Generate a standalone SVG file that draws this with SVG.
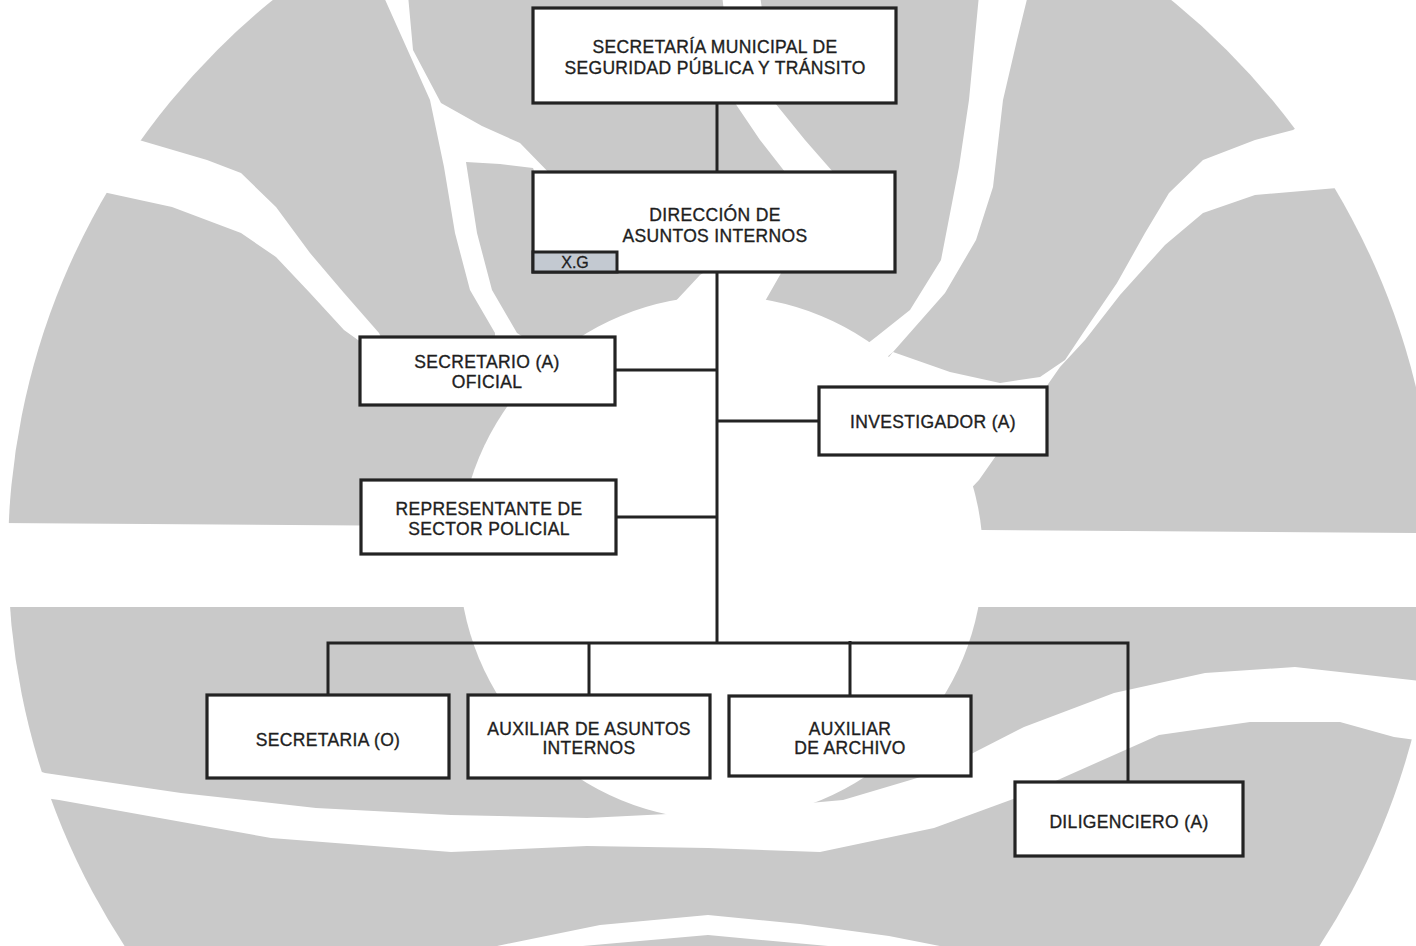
<svg xmlns="http://www.w3.org/2000/svg" width="1416" height="946" viewBox="0 0 1416 946">
<style>
.wm{fill:#c9c9c9}
.wh{fill:#ffffff}
.box{fill:#ffffff;stroke:#232323;stroke-width:3.2}
.tag{fill:#c3c9d1;stroke:#232323;stroke-width:3}
.ln{fill:none;stroke:#232323;stroke-width:3;stroke-linejoin:miter}
.t{font-family:'Liberation Sans',Arial,sans-serif;font-size:17.5px;fill:#1e1e1e;stroke:#1e1e1e;stroke-width:0.35px;text-anchor:middle;letter-spacing:0.35px}
.ts{font-family:'Liberation Sans',Arial,sans-serif;font-size:16px;fill:#1e1e1e;stroke:#1e1e1e;stroke-width:0.3px;text-anchor:middle}
</style>
<rect x="0" y="0" width="1416" height="946" fill="#ffffff"/>
<g id="watermark">
  <circle class="wm" cx="722" cy="555" r="714"/>
  <polygon class="wh" points="-10,523 1426,533 1426,607 -10,607"/>
  <circle class="wh" cx="721" cy="558" r="262"/>
  <polygon class="wh" points="80,110 139,140 207,160 241,173 276,207 310,253 344,293 379,333 385,345 560,360 580,380 450,395 365,345 344,330 310,293 276,257 241,233 172,207 103,192 60,180"/>
  <polygon class="wh" points="383,-5 408,-5 413,50 441,103 482,126 520,143 556,180 540,186 533,168 500,164 466,162 477,233 492,290 517,333 600,385 585,398 495,340 495,333 470,290 455,233 444,167 430,100"/>
  <polygon class="wh" points="722,-5 735,103 760,140 785,172 770,230 700,275 672,305 760,310 800,240 833,172 805,140 775,103 760,-5"/>
  <polygon class="wh" points="979,-5 969,100 959,167 941,260 910,310 876,337 840,365 860,380 893,352 945,293 976,240 993,187 1003,100 1017,40 1028,-5"/>
  <polygon class="wh" points="1340,100 1293,130 1255,140 1203,160 1169,193 1145,233 1117,283 1083,333 1065,360 1040,377 1000,383 950,372 893,352 870,380 880,400 960,500 979,480 1000,450 1030,410 1060,367 1085,340 1120,295 1165,245 1203,213 1255,195 1337,188 1390,170"/>
  <polygon class="wh" points="20,765 45,773 181,793 316,808 451,815 587,818 708,812 843,800 934,773 1024,727 1114,693 1205,673 1295,667 1430,682 1430,742 1394,737 1340,722 1250,722 1159,735 1024,795 934,828 820,852 708,848 587,846 451,852 271,838 59,800 30,796"/>
  <polygon class="wh" points="470,948 497,946 600,925 708,915 800,924 889,936 950,948 850,948 708,935 560,948"/>
</g>
<g id="connectors">
  <line class="ln" x1="717" y1="103" x2="717" y2="172"/>
  <line class="ln" x1="717" y1="272" x2="717" y2="643"/>
  <line class="ln" x1="615" y1="370" x2="717" y2="370"/>
  <line class="ln" x1="717" y1="421" x2="819" y2="421"/>
  <line class="ln" x1="616" y1="517" x2="717" y2="517"/>
  <path class="ln" d="M328,695 V643 H1128 V782"/>
  <line class="ln" x1="589" y1="643" x2="589" y2="695"/>
  <line class="ln" x1="850" y1="641" x2="850" y2="696"/>
</g>
<g id="secretaria-municipal">
  <rect class="box" x="533" y="8" width="363" height="95"/>
  <text class="t" x="715" y="53">SECRETARÍA MUNICIPAL DE</text>
  <text class="t" x="715" y="74">SEGURIDAD PÚBLICA Y TRÁNSITO</text>
</g>
<g id="direccion">
  <rect class="box" x="533" y="172" width="362" height="100"/>
  <text class="t" x="715" y="221">DIRECCIÓN DE</text>
  <text class="t" x="715" y="242">ASUNTOS INTERNOS</text>
  <rect class="tag" x="533" y="252" width="84" height="20"/>
  <text class="ts" x="575" y="268">X.G</text>
</g>
<g id="secretario-oficial">
  <rect class="box" x="360" y="337" width="255" height="68"/>
  <text class="t" x="487" y="368">SECRETARIO (A)</text>
  <text class="t" x="487" y="388">OFICIAL</text>
</g>
<g id="investigador">
  <rect class="box" x="819" y="387" width="228" height="68"/>
  <text class="t" x="933" y="428">INVESTIGADOR (A)</text>
</g>
<g id="representante">
  <rect class="box" x="361" y="480" width="255" height="74"/>
  <text class="t" x="489" y="515">REPRESENTANTE DE</text>
  <text class="t" x="489" y="535">SECTOR POLICIAL</text>
</g>
<g id="secretaria-o">
  <rect class="box" x="207" y="695" width="242" height="83"/>
  <text class="t" x="328" y="746">SECRETARIA (O)</text>
</g>
<g id="auxiliar-asuntos">
  <rect class="box" x="468" y="695" width="242" height="83"/>
  <text class="t" x="589" y="735">AUXILIAR DE ASUNTOS</text>
  <text class="t" x="589" y="754">INTERNOS</text>
</g>
<g id="auxiliar-archivo">
  <rect class="box" x="729" y="696" width="242" height="80"/>
  <text class="t" x="850" y="735">AUXILIAR</text>
  <text class="t" x="850" y="754">DE ARCHIVO</text>
</g>
<g id="diligenciero">
  <rect class="box" x="1015" y="782" width="228" height="74"/>
  <text class="t" x="1129" y="828">DILIGENCIERO (A)</text>
</g>
</svg>
